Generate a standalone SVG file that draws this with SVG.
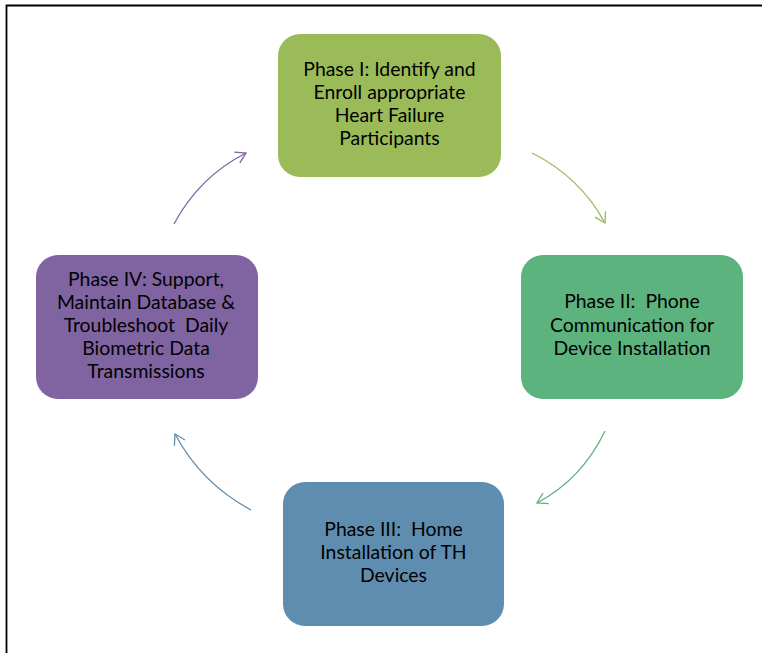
<svg xmlns="http://www.w3.org/2000/svg" width="762" height="653" viewBox="0 0 762 653">
<style>
.lbl{font-family:Lato,"Liberation Sans",sans-serif;font-size:19.4px;fill:#000;text-anchor:middle;white-space:pre}
.conn{fill:none;stroke-width:1.3}
</style>
<defs>
<marker id="ah-olive" markerUnits="userSpaceOnUse" markerWidth="16" markerHeight="16" refX="0" refY="0" viewBox="-12 -8 14 16" orient="auto"><path d="M-10,-6 L0,0 L-10,6" fill="none" stroke="#9BBB59" stroke-width="1.3"/></marker>
<marker id="ah-green" markerUnits="userSpaceOnUse" markerWidth="16" markerHeight="16" refX="0" refY="0" viewBox="-12 -8 14 16" orient="auto"><path d="M-10,-6 L0,0 L-10,6" fill="none" stroke="#5DB37E" stroke-width="1.3"/></marker>
<marker id="ah-blue" markerUnits="userSpaceOnUse" markerWidth="16" markerHeight="16" refX="0" refY="0" viewBox="-12 -8 14 16" orient="auto"><path d="M-10,-6 L0,0 L-10,6" fill="none" stroke="#5F8DAF" stroke-width="1.3"/></marker>
<marker id="ah-purple" markerUnits="userSpaceOnUse" markerWidth="16" markerHeight="16" refX="0" refY="0" viewBox="-12 -8 14 16" orient="auto"><path d="M-10,-6 L0,0 L-10,6" fill="none" stroke="#8064A2" stroke-width="1.3"/></marker>
</defs>
<rect width="762" height="653" fill="#fff"/>
<path d="M6.5,653 V5.5 H762" fill="none" stroke="#000" stroke-width="1.8"/>
<g id="connectors">
<path class="conn" stroke="#9BBB59" d="M532,153 Q580,177 605,223" marker-end="url(#ah-olive)"/>
<path class="conn" stroke="#5DB37E" d="M605,431 Q582,479 537,503" marker-end="url(#ah-green)"/>
<path class="conn" stroke="#5F8DAF" d="M251,510 Q201,483 175,434" marker-end="url(#ah-blue)"/>
<path class="conn" stroke="#8064A2" d="M174,224 Q199,177 246,153" marker-end="url(#ah-purple)"/>
</g>
<g id="phase1">
<rect x="278" y="34" width="223" height="143" rx="22" fill="#9BBB59"/>
<text class="lbl" x="389.5" y="76">Phase I: Identify and</text>
<text class="lbl" x="389.5" y="99">Enroll appropriate</text>
<text class="lbl" x="389.5" y="122">Heart Failure</text>
<text class="lbl" x="389.5" y="145">Participants</text>
</g>
<g id="phase2">
<rect x="521" y="255" width="222" height="144" rx="22" fill="#5DB37E"/>
<text class="lbl" x="632" y="308">Phase II:  Phone</text>
<text class="lbl" x="632" y="331.5">Communication for</text>
<text class="lbl" x="632" y="355">Device Installation</text>
</g>
<g id="phase3">
<rect x="283" y="482" width="221" height="144" rx="22" fill="#5F8DAF"/>
<text class="lbl" x="393.5" y="536">Phase III:  Home</text>
<text class="lbl" x="393.5" y="559">Installation of TH</text>
<text class="lbl" x="393.5" y="582">Devices</text>
</g>
<g id="phase4">
<rect x="36" y="255" width="222" height="144" rx="22" fill="#8064A2"/>
<text class="lbl" x="146" y="286">Phase IV: Support,</text>
<text class="lbl" x="146" y="308.5">Maintain Database &amp;</text>
<text class="lbl" x="146" y="331.5">Troubleshoot  Daily</text>
<text class="lbl" x="146" y="354.5">Biometric Data</text>
<text class="lbl" x="146" y="377.5">Transmissions</text>
</g>
</svg>
